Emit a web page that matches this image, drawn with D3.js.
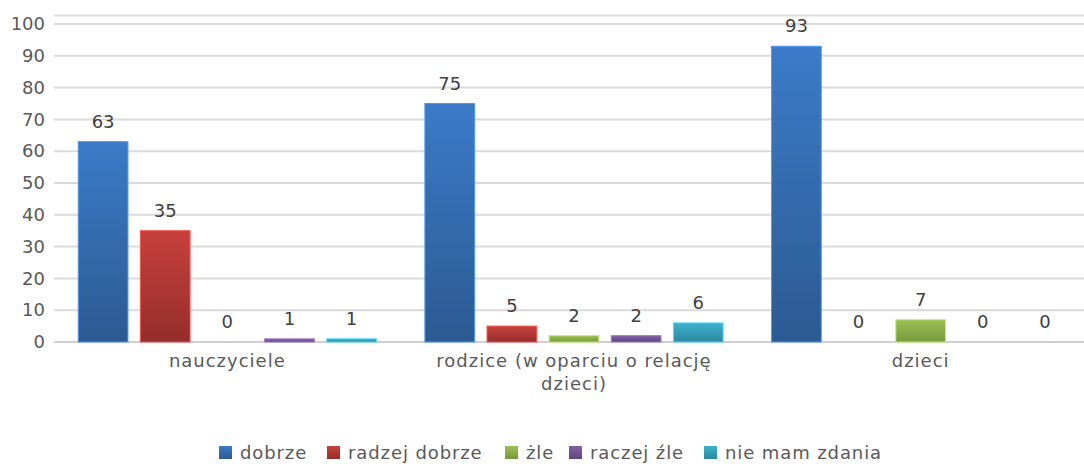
<!DOCTYPE html>
<html>
<head>
<meta charset="utf-8">
<script src="https://cdn.jsdelivr.net/npm/d3@7"></script>
<style>
  body { margin: 0; background: #fff; }
  text { font-family: "DejaVu Sans", sans-serif; }
</style>
</head>
<body>
<script>
// data
const categories = [["nauczyciele"], ["rodzice (w oparciu o relację", "dzieci)"], ["dzieci"]];
const seriesNames = ["dobrze", "radzej dobrze", "żle", "raczej źle", "nie mam zdania"];
const dobrze = [63, 75, 93];
const radzejDobrze = [35, 5, 0];
const zle = [0, 2, 7];
const raczejZle = [1, 2, 0];
const nieMamZdania = [1, 6, 0];
const yTicks = [0, 10, 20, 30, 40, 50, 60, 70, 80, 90, 100];

const seriesValues = [dobrze, radzejDobrze, zle, raczejZle, nieMamZdania];
const colors = [
  ["#3c7bc8", "#2c5a92"],
  ["#c7413d", "#952d2b"],
  ["#9dbf57", "#779a3a"],
  ["#8262a6", "#5e4580"],
  ["#3fb0cc", "#2b88a2"]
];

const W = 1084, H = 464;
const svg = d3.select('body').append('svg')
  .attr('width', W)
  .attr('height', H);

// gradients for bars
const defs = svg.append('defs');
colors.forEach((c, i) => {
  const g = defs.append('linearGradient')
    .attr('id', 'grad' + i)
    .attr('x1', 0).attr('y1', 0).attr('x2', 0).attr('y2', 1);
  g.append('stop').attr('offset', '0%').attr('stop-color', c[0]);
  g.append('stop').attr('offset', '100%').attr('stop-color', c[1]);
});

const catIdx = categories.map((d, i) => i);
const x0 = d3.scaleBand()
  .domain(catIdx)
  .range([54, 1094])
  .padding(0);

const x1 = d3.scaleBand()
  .domain(d3.range(seriesNames.length))
  .range([0, x0.bandwidth()])
  .paddingInner(0.2)
  .paddingOuter(0.39);

const y = d3.scaleLinear()
  .domain([0, 100])
  .range([342, 24]);

// top border line
svg.append('line')
  .attr('x1', 54).attr('x2', W)
  .attr('y1', 15.5).attr('y2', 15.5)
  .attr('stroke', '#dcdcdc')
  .attr('stroke-width', 2);

// gridlines
svg.append('g')
  .selectAll('line')
  .data(yTicks)
  .enter()
  .append('line')
  .attr('x1', 54).attr('x2', W)
  .attr('y1', d => y(d)).attr('y2', d => y(d))
  .attr('stroke', d => d === 0 ? '#d0d0d0' : '#dadada')
  .attr('stroke-width', 2);

// y axis labels
const yAxis = d3.axisLeft(y).tickValues(yTicks).tickSize(0).tickPadding(0);
const yg = svg.append('g')
  .attr('transform', 'translate(45,0)')
  .call(yAxis);
yg.select('.domain').remove();
yg.selectAll('text')
  .attr('font-family', '"DejaVu Sans", sans-serif')
  .attr('font-size', 18)
  .attr('fill', '#595959');

// bars
const groups = svg.selectAll('g.cat')
  .data(catIdx)
  .enter()
  .append('g')
  .attr('class', 'cat')
  .attr('transform', d => `translate(${x0(d)},0)`);

groups.selectAll('rect')
  .data(ci => seriesValues.map((s, si) => ({ si, v: s[ci] })))
  .enter()
  .append('rect')
  .filter(d => d.v > 0)
  .attr('x', d => x1(d.si))
  .attr('y', d => y(d.v))
  .attr('width', x1.bandwidth())
  .attr('height', d => y(0) - y(d.v))
  .attr('fill', d => `url(#grad${d.si})`)
  .attr('stroke', d => d3.color(colors[d.si][0]).brighter(0.6))
  .attr('stroke-width', 1);

// value labels
groups.selectAll('text.val')
  .data(ci => seriesValues.map((s, si) => ({ si, v: s[ci] })))
  .enter()
  .append('text')
  .attr('class', 'val')
  .attr('x', d => x1(d.si) + x1.bandwidth() / 2)
  .attr('y', d => y(d.v) - 14)
  .attr('text-anchor', 'middle')
  .attr('font-size', 18)
  .attr('fill', '#404040')
  .text(d => d.v);

// category labels
groups.append('text')
  .attr('x', x0.bandwidth() / 2)
  .attr('y', 367)
  .attr('text-anchor', 'middle')
  .attr('font-size', 18)
  .attr('letter-spacing', 1)
  .attr('fill', '#595959')
  .selectAll('tspan')
  .data(ci => categories[ci])
  .enter()
  .append('tspan')
  .attr('x', x0.bandwidth() / 2)
  .attr('dy', (d, i) => i === 0 ? 0 : 23)
  .text(d => d);

// legend
const legendX = [219, 327, 505, 569, 704];
const legend = svg.append('g');
seriesNames.forEach((name, i) => {
  legend.append('rect')
    .attr('x', legendX[i])
    .attr('y', 446)
    .attr('width', 13)
    .attr('height', 13)
    .attr('fill', `url(#grad${i})`);
  legend.append('text')
    .attr('x', legendX[i] + 21)
    .attr('y', 459)
    .attr('font-size', 18)
    .attr('letter-spacing', 0.9)
    .attr('fill', '#595959')
    .text(name);
});
</script>
</body>
</html>
